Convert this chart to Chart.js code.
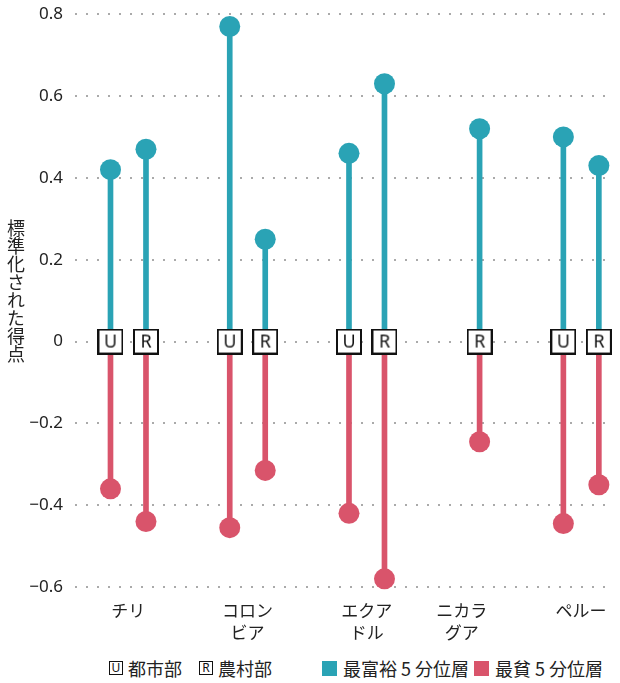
<!DOCTYPE html>
<html>
<head>
<meta charset="utf-8">
<script src="https://cdn.jsdelivr.net/npm/chart.js@4"></script>
<style>
  body { margin: 0; background: #fff; color: #222; font-family: "Noto Sans CJK JP", "Noto Sans", sans-serif; }
  #wrap { position: relative; width: 620px; height: 683px; overflow: hidden; }
  #box { position: absolute; left: 0; top: -8px; width: 620px; height: 658px; }
  #ytitle { position: absolute; left: 7px; top: 219px; writing-mode: vertical-rl; text-orientation: upright;
            font-size: 18px; line-height: 18px; }
  #legend { position: absolute; left: 0; top: 655px; width: 620px; height: 26px; font-size: 18px; }
  .item { position: absolute; top: 0; height: 26px; display: flex; align-items: center; white-space: nowrap; }
  .key { box-sizing: border-box; width: 14px; height: 14px; border: 1.5px solid #111; font: 12px/11px "Noto Sans", sans-serif;
         text-align: center; margin-right: 5px; color: #111; }
  .sw { width: 15px; height: 15px; margin-right: 6px; }
</style>
</head>
<body>
<div id="wrap">
  <div id="box"><canvas id="graphCanvas"></canvas></div>
  <div id="ytitle">標準化された得点</div>
  <div id="legend">
    <div class="item" style="left:109px"><span class="key">U</span>都市部</div>
    <div class="item" style="left:199px"><span class="key">R</span>農村部</div>
    <div class="item" style="left:322px"><span class="sw" style="background:#2aa3b5"></span>最富裕 5 分位層</div>
    <div class="item" style="left:474px"><span class="sw" style="background:#d9546b"></span>最貧 5 分位層</div>
  </div>
</div>
<script>
// data
var countries = ['チリ', ['コロン', 'ビア'], ['エクア', 'ドル'], ['ニカラ', 'グア'], 'ペルー'];
var urbanRichest = [0.42, 0.77, 0.46, null, 0.50];
var urbanPoorest = [-0.36, -0.455, -0.42, null, -0.445];
var ruralRichest = [0.47, 0.25, 0.63, 0.52, 0.43];
var ruralPoorest = [-0.44, -0.315, -0.58, -0.245, -0.35];
var yTicks = [-0.6, -0.4, -0.2, 0, 0.2, 0.4, 0.6, 0.8];

var teal = '#2aa3b5';
var red = '#d9546b';

// group centres on the x axis, a group without an urban point is a bit narrower
var centers = [];
var c = 1.5;
for (var i = 0; i < countries.length; i++) {
    if (i > 0) c += (urbanRichest[i] === null ? 2.68 : 3.36);
    centers.push(c);
}

var items = [];
for (var i = 0; i < countries.length; i++) {
    if (urbanRichest[i] !== null) items.push({ x: centers[i] - 0.5, area: 'U', rich: urbanRichest[i], poor: urbanPoorest[i] });
    items.push({ x: centers[i] + 0.5, area: 'R', rich: ruralRichest[i], poor: ruralPoorest[i] });
}

function makeIcon(letter) {
    var cv = document.createElement('canvas');
    cv.width = 26; cv.height = 26;
    var ctx = cv.getContext('2d');
    ctx.fillStyle = '#fff';
    ctx.fillRect(0, 0, 26, 26);
    ctx.strokeStyle = '#111';
    ctx.lineWidth = 2;
    ctx.strokeRect(1, 1, 24, 24);
    ctx.fillStyle = '#111';
    ctx.font = '18px "Noto Sans"';
    ctx.textAlign = 'center';
    ctx.textBaseline = 'middle';
    ctx.fillText(letter, 13, 14);
    return cv;
}
var icons = { U: makeIcon('U'), R: makeIcon('R') };

var chartdata = {
    datasets: [
        {
            type: 'bar', order: 3, grouped: false, barThickness: 5, backgroundColor: teal,
            data: items.map(function (d) { return { x: d.x, y: [0, d.rich] }; })
        },
        {
            type: 'bar', order: 3, grouped: false, barThickness: 5, backgroundColor: red,
            data: items.map(function (d) { return { x: d.x, y: [0, d.poor] }; })
        },
        {
            type: 'scatter', order: 2, clip: false, pointRadius: 10.5, borderWidth: 0, backgroundColor: teal,
            data: items.map(function (d) { return { x: d.x, y: d.rich }; })
        },
        {
            type: 'scatter', order: 2, clip: false, pointRadius: 10.5, borderWidth: 0, backgroundColor: red,
            data: items.map(function (d) { return { x: d.x, y: d.poor }; })
        },
        {
            type: 'scatter', order: 1, clip: false,
            pointStyle: items.map(function (d) { return icons[d.area]; }),
            data: items.map(function (d) { return { x: d.x, y: 0 }; })
        }
    ]
};

new Chart(document.getElementById('graphCanvas'), {
    type: 'bar',
    data: chartdata,
    options: {
        responsive: true,
        maintainAspectRatio: false,
        animation: false,
        layout: { padding: { top: 5, right: 3, left: 0, bottom: 0 } },
        plugins: { legend: { display: false }, tooltip: { enabled: false } },
        scales: {
            x: {
                type: 'linear', min: 0, max: 15.06, offset: false,
                afterBuildTicks: function (s) { s.ticks = centers.map(function (v) { return { value: v }; }); },
                afterFit: function (s) { s.height = 63; },
                grid: { display: false },
                border: { display: false },
                ticks: {
                    autoSkip: false, maxRotation: 0, padding: 4, color: '#222',
                    font: { family: '"Noto Sans CJK JP"', size: 17, lineHeight: 1.3 },
                    callback: function (v, i) { return countries[i]; }
                }
            },
            y: {
                min: -0.6, max: 0.8,
                afterBuildTicks: function (s) { s.ticks = yTicks.map(function (v) { return { value: v }; }); },
                afterFit: function (s) { s.width = 75; },
                grid: { color: '#aaa', lineWidth: 2, drawTicks: false },
                border: { display: false, dash: [2, 9] },
                ticks: {
                    padding: 12, color: '#222',
                    font: { family: '"Noto Sans"', size: 17 },
                    callback: function (v) {
                        if (v === 0) return '0';
                        return (v < 0 ? '\u2212' : '') + Math.abs(v).toFixed(1);
                    }
                }
            }
        }
    }
});
</script>
</body>
</html>
